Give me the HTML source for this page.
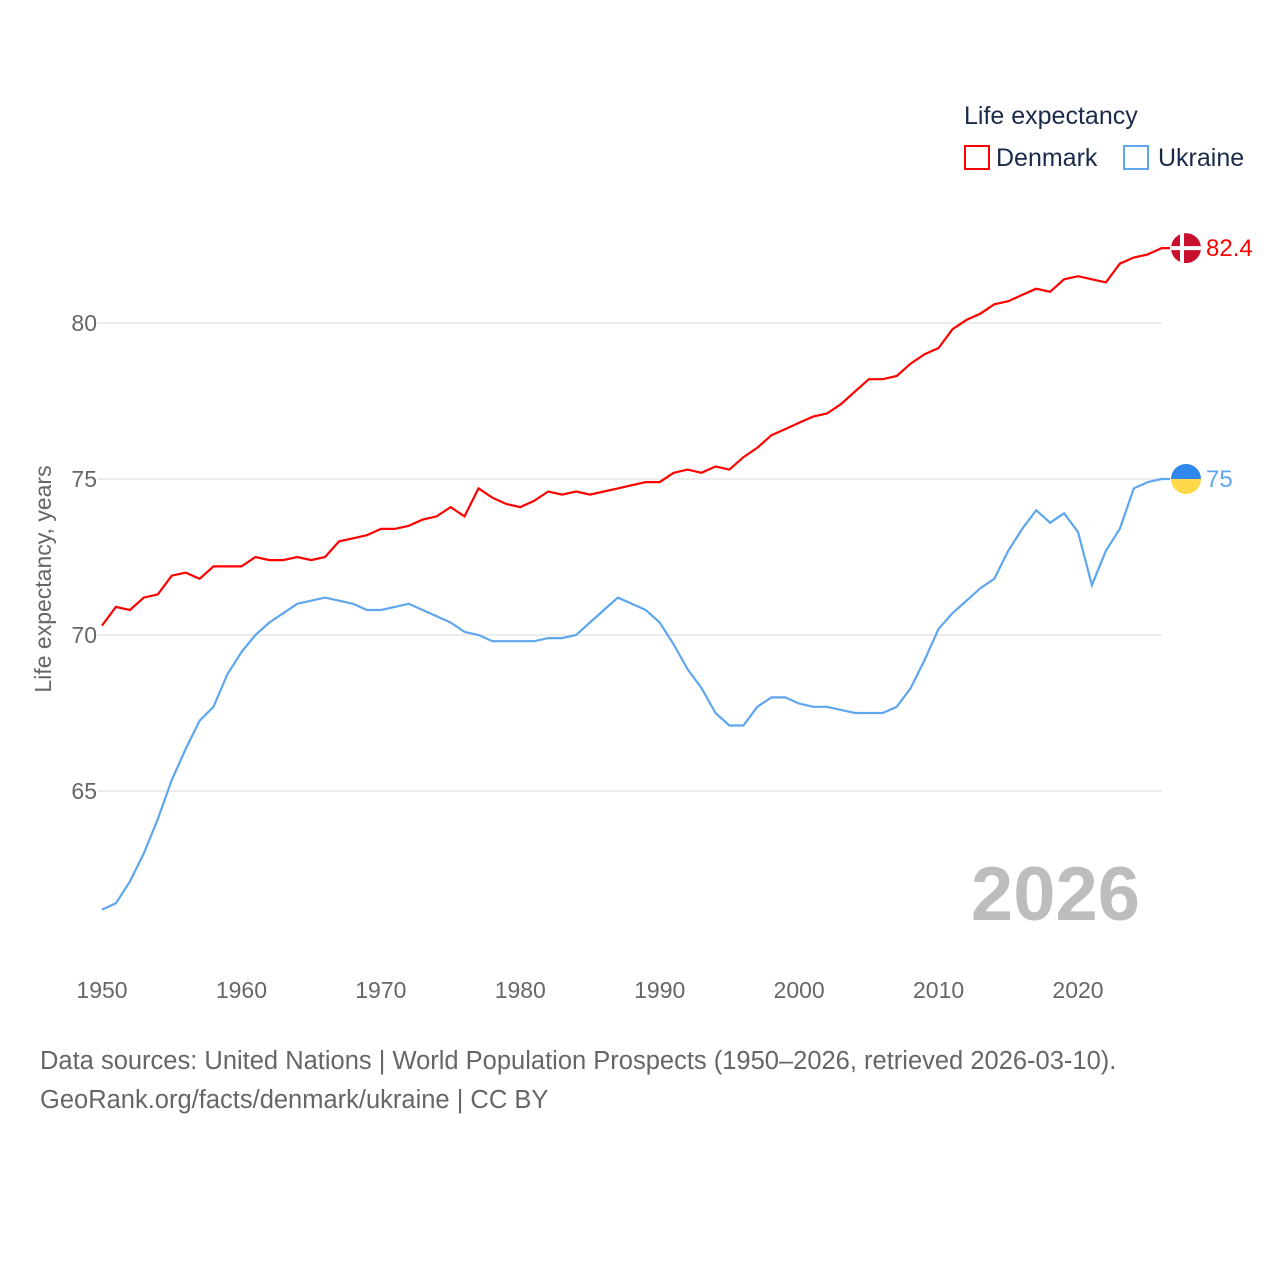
<!DOCTYPE html>
<html><head><meta charset="utf-8"><style>
html,body{margin:0;padding:0;background:#fff;}
body{width:1280px;height:1280px;position:relative;font-family:"Liberation Sans",sans-serif;}
svg text{font-family:"Liberation Sans",sans-serif;}
</style></head><body>
<svg id="chart" width="1280" height="1280" xmlns="http://www.w3.org/2000/svg">
<g id="grid"></g>
<g id="lines"></g>
<text transform="translate(51,579) rotate(-90)" text-anchor="middle" font-size="23" fill="#666">Life expectancy, years</text>
<text x="1140" y="920" text-anchor="end" font-size="76" font-weight="bold" fill="#bdbdbd">2026</text>
<g>
<text x="964" y="124" font-size="25" fill="#1a2a4a">Life expectancy</text>
<rect x="965" y="146" width="24" height="23" fill="#fff" stroke="#f00" stroke-width="2"/>
<text x="996" y="166" font-size="25" fill="#1a2a4a">Denmark</text>
<rect x="1124" y="146" width="24" height="23" fill="#fff" stroke="#5ea6ee" stroke-width="2"/>
<text x="1158" y="166" font-size="25" fill="#1a2a4a">Ukraine</text>
</g>
<text x="40" y="1069" font-size="25.5" fill="#666">Data sources: United Nations | World Population Prospects (1950–2026, retrieved 2026-03-10).</text>
<text x="40" y="1108" font-size="25.5" fill="#666">GeoRank.org/facts/denmark/ukraine | CC BY</text>
</svg>
<script>
const years=[];for(let y=1950;y<=2026;y++)years.push(y);
const denmark=[70.3,70.9,70.8,71.2,71.3,71.9,72.0,71.8,72.2,72.2,72.2,72.5,72.4,72.4,72.5,72.4,72.5,73.0,73.1,73.2,73.4,73.4,73.5,73.7,73.8,74.1,73.8,74.7,74.4,74.2,74.1,74.3,74.6,74.5,74.6,74.5,74.6,74.7,74.8,74.9,74.9,75.2,75.3,75.2,75.4,75.3,75.7,76.0,76.4,76.6,76.8,77.0,77.1,77.4,77.8,78.2,78.2,78.3,78.7,79.0,79.2,79.8,80.1,80.3,80.6,80.7,80.9,81.1,81.0,81.4,81.5,81.4,81.3,81.9,82.1,82.2,82.4];
const ukraine=[61.2,61.4,62.1,63.0,64.1,65.35,66.35,67.25,67.7,68.75,69.45,70.0,70.4,70.7,71.0,71.1,71.2,71.1,71.0,70.8,70.8,70.9,71.0,70.8,70.6,70.4,70.1,70.0,69.8,69.8,69.8,69.8,69.9,69.9,70.0,70.4,70.8,71.2,71.0,70.8,70.4,69.7,68.9,68.3,67.5,67.1,67.1,67.7,68.0,68.0,67.8,67.7,67.7,67.6,67.5,67.5,67.5,67.7,68.3,69.2,70.2,70.7,71.1,71.5,71.8,72.7,73.4,74.0,73.6,73.9,73.3,71.6,72.7,73.4,74.7,74.9,75.0];
const yTicks=[65,70,75,80];
const xTicks=[1950,1960,1970,1980,1990,2000,2010,2020];
const NS="http://www.w3.org/2000/svg";
const x=v=>102+(v-1950)*(976/70);
const y=v=>323+(80-v)*31.2;
const grid=document.getElementById('grid');
yTicks.forEach(t=>{
 const l=document.createElementNS(NS,'line');
 
 
 l.setAttribute('x1',98);l.setAttribute('x2',1162);l.setAttribute('y1',y(t));l.setAttribute('y2',y(t));
 l.setAttribute('stroke','#e6e6e6');l.setAttribute('stroke-width','1.5');grid.appendChild(l);
 const tx=document.createElementNS(NS,'text');
 
 
 tx.setAttribute('x',97);tx.setAttribute('y',y(t)+8);tx.setAttribute('text-anchor','end');
 tx.setAttribute('font-size','23');tx.setAttribute('fill','#666');tx.textContent=t;grid.appendChild(tx);
});
xTicks.forEach(t=>{
 const tx=document.createElementNS(NS,'text');
 
 
 tx.setAttribute('x',x(t));tx.setAttribute('y',998);tx.setAttribute('text-anchor','middle');
 tx.setAttribute('font-size','23');tx.setAttribute('fill','#666');tx.textContent=t;grid.appendChild(tx);
});
const lines=document.getElementById('lines');
function series(vals,color,name){
 const p=document.createElementNS(NS,'path');
 
 
 let d=vals.map((v,i)=>(i?'L':'M')+x(years[i]).toFixed(1)+','+y(v).toFixed(1)).join('');
 d+='L1170,'+y(vals[vals.length-1]).toFixed(1);
 p.setAttribute('d',d);
 p.setAttribute('fill','none');p.setAttribute('stroke',color);p.setAttribute('stroke-width','2.2');
 lines.appendChild(p);
}
series(denmark,'#ff0000','denmark');
series(ukraine,'#5ea6ee','ukraine');
const ld=denmark[denmark.length-1],lu=ukraine[ukraine.length-1];
const cx=1186;
const gd=document.createElementNS(NS,'g');


const dy=y(ld);
gd.innerHTML=`<clipPath id="cd"><circle cx="${cx}" cy="${dy}" r="15"/></clipPath><g clip-path="url(#cd)"><rect x="${cx-15}" y="${dy-15}" width="30" height="30" fill="#c8102e"/><rect x="${cx-6}" y="${dy-15}" width="4" height="30" fill="#fff"/><rect x="${cx-15}" y="${dy-2}" width="30" height="4" fill="#fff"/></g>`;
lines.appendChild(gd);
const td=document.createElementNS(NS,'text');


td.setAttribute('x',1206);td.setAttribute('y',dy+8);td.setAttribute('font-size','24');td.setAttribute('fill','#ff0000');td.textContent=ld;
lines.appendChild(td);
const gu=document.createElementNS(NS,'g');


const uy=y(lu);
gu.innerHTML=`<clipPath id="cu"><circle cx="${cx}" cy="${uy}" r="15"/></clipPath><g clip-path="url(#cu)"><rect x="${cx-15}" y="${uy-15}" width="30" height="15" fill="#2f86eb"/><rect x="${cx-15}" y="${uy}" width="30" height="15" fill="#ffd94a"/></g>`;
lines.appendChild(gu);
const tu=document.createElementNS(NS,'text');


tu.setAttribute('x',1206);tu.setAttribute('y',uy+8);tu.setAttribute('font-size','24');tu.setAttribute('fill','#5ea6ee');tu.textContent=lu;
lines.appendChild(tu);
</script>
</body></html>
